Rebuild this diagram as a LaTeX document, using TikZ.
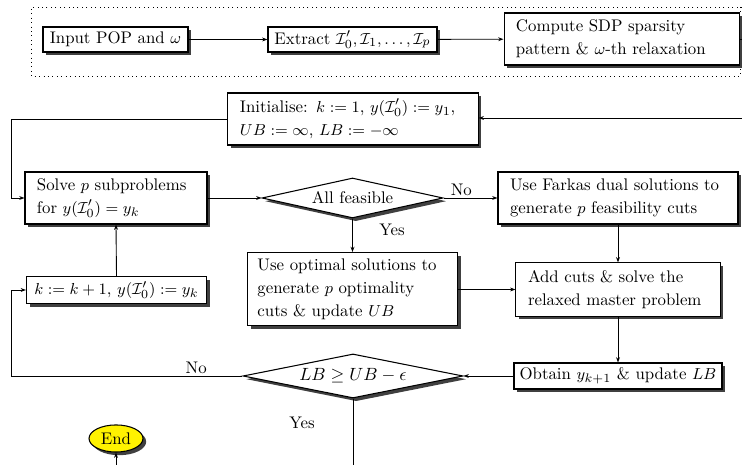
\documentclass[tikz,border=0pt]{standalone}
\usetikzlibrary{shapes.geometric,shadows,arrows.meta}
\begin{document}
\begin{tikzpicture}[x=0.565pt,y=-0.565pt,
  every node/.style={font=\fontsize{9.5}{13}\selectfont},
  >={Stealth[length=3pt,width=2.2pt]},
  conn/.style={line width=0.5pt},
  shad/.style={drop shadow={shadow xshift=1.8pt,shadow yshift=-1.8pt,fill=black!75,opacity=1}},
  box/.style={draw,line width=0.6pt,fill=white,inner sep=0pt,shad},
  tbox/.style={box,align=left,text width=#1},
  dec/.style={diamond,draw,line width=0.6pt,fill=white,inner sep=0pt,shad},
  lbl/.style={inner sep=1pt}]
\useasboundingbox (0,0) rectangle (742,465);
% dotted frame
\draw[dotted,line width=0.5pt] (742,7) -- (31.5,7) -- (31.5,76.5) -- (742,76.5);
\draw[dotted,line width=0.5pt] (740.5,7) -- (740.5,76.5);
% top row
\node[box,minimum width=81.9pt,minimum height=14.1pt] (inp) at (115.5,39.5) {Input POP and $\omega$};
\node[box,minimum width=95.5pt,minimum height=14.1pt] (ext) at (352.5,39.5) {Extract $\mathcal{I}_0',\mathcal{I}_1,\ldots,\mathcal{I}_p$};
\node[tbox=119.8pt,minimum width=133.3pt,minimum height=29.4pt] (sdp) at (622,39) {Compute SDP sparsity\\pattern \& $\omega$-th relaxation};
\coordinate (sdpout) at (742,39);
% initialise
\node[tbox=127.7pt,minimum width=141.3pt,minimum height=29.4pt] (ini) at (353,119) {Initialise: $k:=1$, $y(\mathcal{I}_0'):=y_1$,\\$UB:=\infty$, $LB:=-\infty$};
\coordinate (iniin) at (742,118);
\coordinate (lt) at (11,119);
% row 2
\node[tbox=89.3pt,minimum width=102.8pt,minimum height=29.4pt] (sol) at (116,198) {Solve $p$ subproblems\\for $y(\mathcal{I}_0')=y_k$};
\node[dec,aspect=4.5,minimum width=102.3pt,minimum height=22.6pt] (d1) at (352.5,198) {All feasible};
\node[tbox=122pt,minimum width=135.6pt,minimum height=29.4pt] (far) at (618,198) {Use Farkas dual solutions to\\generate $p$ feasibility cuts};
% row 3
\node[box,minimum width=101.7pt,minimum height=15.3pt] (kb) at (116.5,290) {$k:=k+1$, $y(\mathcal{I}_0'):=y_k$};
\node[tbox=107.4pt,minimum width=118.7pt,minimum height=41.2pt] (opt) at (352.5,289) {Use optimal solutions to\\generate $p$ optimality\\cuts \& update $UB$};
\node[tbox=101.7pt,minimum width=115.3pt,minimum height=30pt] (add) at (618,289.5) {Add cuts \& solve the\\relaxed master problem};
% row 4
\node[dec,aspect=5,minimum width=124.3pt,minimum height=24.9pt,font=\fontsize{10}{13}\selectfont] (d2) at (353,376) {$LB\geq UB-\epsilon$};
\node[box,minimum width=117.5pt,minimum height=14.7pt] (obt) at (618,376) {Obtain $y_{k+1}$ \& update $LB$};
\coordinate (lb) at (11,376);
\coordinate (d2out) at (353,465);
% end
\node[ellipse,draw,line width=0.6pt,fill=yellow,inner sep=0pt,minimum width=30.5pt,minimum height=15.3pt,shad] (end) at (116,438.5) {End};
\coordinate (endin) at (116,465);
% connectors
\draw[conn,->] (inp) -- (ext);
\draw[conn,->] (ext) -- (sdp);
\draw[conn] (sdp.east) -- (sdpout);
\draw[conn,->] (iniin) -- (ini.east |- iniin);
\draw[conn,->] (ini.west) -- (lt) |- (sol.west);
\draw[conn,->] (sol) -- (d1);
\draw[conn,->] (d1) -- node[lbl,above,pos=0.33]{No} (far);
\draw[conn,->] (d1.south) -- node[lbl,right,xshift=14pt,pos=0.35]{Yes} (opt.north);
\draw[conn,->] (far.south) -- (add.north);
\draw[conn,->] (opt.east |- add.west) -- (add.west);
\draw[conn,->] (add.south) -- (obt.north);
\draw[conn,->] (obt) -- (d2);
\draw[conn,->] (d2.west) -- node[lbl,above,pos=0.2]{No} (lb) |- (kb.west);
\draw[conn,->] (kb.north) -- (sol.south);
\draw[conn] (d2.south) -- (d2out);
\node[lbl] (yes2) at (302,423) {Yes};
\draw[conn,->] (endin) -- (end.south);
\end{tikzpicture}
\end{document}
